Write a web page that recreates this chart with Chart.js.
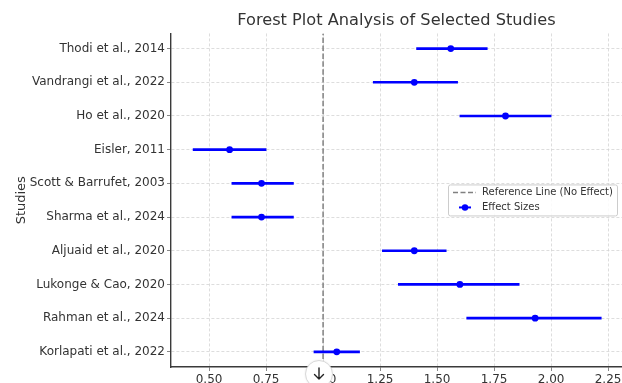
<!DOCTYPE html>
<html>
<head>
<meta charset="utf-8">
<script src="https://cdn.jsdelivr.net/npm/chart.js@4.4.1/dist/chart.umd.min.js"></script>
<style>
html,body{margin:0;padding:0;background:#fff;}
#wrap{position:relative;width:622px;height:383px;overflow:hidden;}
canvas{display:block;}
#dl{position:absolute;left:305px;top:360px;width:28px;height:28px;border-radius:50%;background:#fff;border:1px solid #d8d8d8;box-sizing:border-box;box-shadow:0 0 2px rgba(0,0,0,0.08);}
#dl svg{position:absolute;left:7px;top:6px;}
</style>
</head>
<body>
<div id="wrap"><canvas id="c" width="622" height="383"></canvas><div id="dl"><svg width="12" height="14" viewBox="0 0 12 14"><path d="M6 1 V12 M1.5 7.5 L6 12 L10.5 7.5" fill="none" stroke="#222" stroke-width="1.4" stroke-linecap="round" stroke-linejoin="round"/></svg></div></div>
<script>
// ---- data (top to bottom, as shown) ----
const studies = [
  "Thodi et al., 2014",
  "Vandrangi et al., 2022",
  "Ho et al., 2020",
  "Eisler, 2011",
  "Scott & Barrufet, 2003",
  "Sharma et al., 2024",
  "Aljuaid et al., 2020",
  "Lukonge & Cao, 2020",
  "Rahman et al., 2024",
  "Korlapati et al., 2022"
];
const effectSizes = [1.56, 1.40, 1.80, 0.59, 0.73, 0.73, 1.40, 1.60, 1.93, 1.06];
const ciLower     = [1.41, 1.22, 1.60, 0.43, 0.60, 0.60, 1.26, 1.33, 1.63, 0.96];
const ciUpper     = [1.72, 1.59, 2.00, 0.75, 0.87, 0.87, 1.54, 1.86, 2.22, 1.16];
const xTickValues = [0.50, 0.75, 1.00, 1.25, 1.50, 1.75, 2.00, 2.25];
const referenceValue = 1.0;
const chartTitle = "Forest Plot Analysis of Selected Studies";
const yAxisTitle = "Studies";
const legendLabels = ["Reference Line (No Effect)", "Effect Sizes"];

const n = studies.length;
const yMin = -0.45, yMax = n - 1 + 0.45;
const xMin = 0.333, xMax = 2.311;
const FONT = '"DejaVu Sans", sans-serif';
const BLUE = '#0000ff';
const TXT = '#333333';
const GRID = '#d4d4d4';

const rowOf = i => n - 1 - i;

const legendPlugin = {
  id: 'boxLegend',
  afterDraw(chart) {
    const ctx = chart.ctx;
    const a = chart.chartArea;
    const bx = a.right - 174, by = a.top + 151, bw = 169, bh = 31;
    ctx.save();
    ctx.fillStyle = 'rgba(255,255,255,0.85)';
    ctx.strokeStyle = '#cccccc';
    ctx.lineWidth = 1;
    ctx.beginPath();
    if (ctx.roundRect) ctx.roundRect(bx + 0.5, by + 0.5, bw, bh, 2); else ctx.rect(bx + 0.5, by + 0.5, bw, bh);
    ctx.fill(); ctx.stroke();
    const r1 = by + 8, r2 = by + 23;
    ctx.strokeStyle = '#808080';
    ctx.lineWidth = 1.5;
    ctx.setLineDash([5, 2.5]);
    ctx.beginPath(); ctx.moveTo(bx + 5, r1); ctx.lineTo(bx + 28, r1); ctx.stroke();
    ctx.setLineDash([]);
    ctx.strokeStyle = BLUE; ctx.lineWidth = 2;
    ctx.beginPath(); ctx.moveTo(bx + 11, r2); ctx.lineTo(bx + 23, r2); ctx.stroke();
    ctx.fillStyle = BLUE;
    ctx.beginPath(); ctx.arc(bx + 17, r2, 3.2, 0, Math.PI * 2); ctx.fill();
    ctx.fillStyle = TXT;
    ctx.font = '10px ' + FONT;
    ctx.textBaseline = 'middle';
    ctx.textAlign = 'left';
    ctx.fillText(legendLabels[0], bx + 34, r1);
    ctx.fillText(legendLabels[1], bx + 34, r2);
    ctx.restore();
  }
};

new Chart(document.getElementById('c'), {
  type: 'scatter',
  data: {
    datasets: [
      {
        type: 'scatter',
        label: legendLabels[1],
        data: studies.map((s, i) => ({x: effectSizes[i], y: rowOf(i)})),
        backgroundColor: BLUE,
        borderColor: BLUE,
        borderWidth: 0,
        pointRadius: 3.4,
        order: 0
      },
      {
        type: 'bar',
        label: 'CI',
        indexAxis: 'y',
        data: studies.map((s, i) => ({x: [ciLower[i], ciUpper[i]], y: rowOf(i)})),
        backgroundColor: BLUE,
        borderWidth: 0,
        borderSkipped: false,
        barThickness: 2,
        grouped: false,
        order: 1
      },
      {
        type: 'line',
        label: legendLabels[0],
        data: [{x: referenceValue, y: yMin}, {x: referenceValue, y: yMax}],
        borderColor: '#808080',
        borderWidth: 1.5,
        borderDash: [5.5, 2.4],
        pointRadius: 0,
        fill: false,
        order: 2
      }
    ]
  },
  options: {
    responsive: false,
    animation: false,
    events: [],
    layout: {padding: 0, autoPadding: false},
    plugins: {
      legend: {display: false},
      tooltip: {enabled: false},
      title: {
        display: true,
        text: chartTitle,
        fullSize: false,
        color: TXT,
        font: {family: FONT, size: 16.2, weight: 'normal'},
        padding: {top: 11, bottom: 3}
      }
    },
    scales: {
      x: {
        type: 'linear',
        position: 'bottom',
        min: xMin,
        max: xMax,
        offset: false,
        afterBuildTicks: s => { s.ticks = xTickValues.map(v => ({value: v})); },
        afterFit: s => { s.height = 16; s.paddingRight = 0; s.paddingLeft = 0; },
        ticks: {
          callback: v => Number(v).toFixed(2),
          color: TXT,
          font: {family: FONT, size: 12},
          padding: 2,
          maxRotation: 0,
          autoSkip: false
        },
        grid: {color: GRID, lineWidth: 0.8, drawTicks: true, tickLength: 4, tickColor: '#888', tickWidth: 1, offset: false},
        border: {display: true, color: '#3a3a3a', width: 1.4, dash: [3, 2]}
      },
      y: {
        type: 'linear',
        position: 'left',
        min: yMin,
        max: yMax,
        offset: false,
        afterBuildTicks: s => { s.ticks = studies.map((st, i) => ({value: rowOf(i)})); },
        afterFit: s => { s.width = 171; s.paddingTop = 0; s.paddingBottom = 0; },
        ticks: {
          callback: v => studies[n - 1 - v],
          color: TXT,
          font: {family: FONT, size: 12},
          padding: 2,
          autoSkip: false
        },
        title: {
          display: true,
          text: yAxisTitle,
          color: TXT,
          font: {family: FONT, size: 13},
          padding: {top: 14, bottom: 0}
        },
        grid: {color: GRID, lineWidth: 0.8, drawTicks: true, tickLength: 4, tickColor: '#888', tickWidth: 1, offset: false},
        border: {display: true, color: '#3a3a3a', width: 1.4, dash: [3, 2]}
      }
    }
  },
  plugins: [legendPlugin]
});
</script>
</body>
</html>
